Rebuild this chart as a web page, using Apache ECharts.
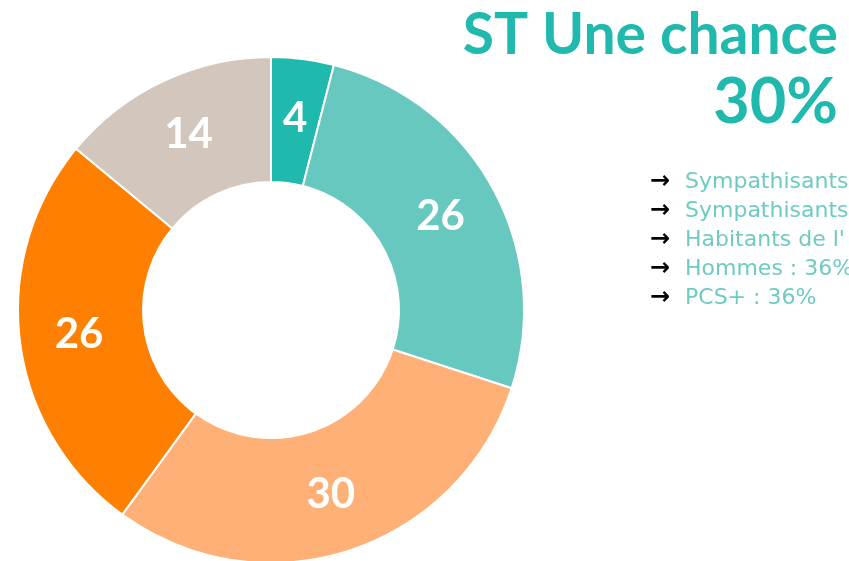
<!DOCTYPE html>
<html>
<head>
<meta charset="utf-8">
<script src="https://cdn.jsdelivr.net/npm/echarts@6/dist/echarts.min.js"></script>
<style>
  html, body { margin: 0; padding: 0; background: #ffffff; }
  #chart { width: 849px; height: 561px; }
</style>
</head>
<body>
<div id="chart"></div>
<script>
// Segment values, clockwise from the top
const values = [4, 26, 30, 26, 14];
const segmentNames = ['Segment 1', 'Segment 2', 'Segment 3', 'Segment 4', 'Segment 5'];
const segmentColors = ['#20B9AD', '#66C8BE', '#FFB077', '#FF7F00', '#D3C7BD'];

// Headline and bullet points on the right
const headline = 'ST Une chance';
const headlineValue = '30%';
const bulletLines = [
  'Sympathisants',
  'Sympathisants',
  "Habitants de l'",
  'Hommes : 36%',
  'PCS+ : 36%'
];

const chart = echarts.init(document.getElementById('chart'), null, { renderer: 'canvas' });

const textFont = 'Lato, "Open Sans", sans-serif';
const bulletFont = '"DejaVu Sans", sans-serif';
const bulletTop = 182;
const bulletStep = 29;

const graphics = [
  {
    type: 'text',
    right: 11,
    top: 7,
    style: {
      text: headline,
      font: 'bold 57px ' + textFont,
      fill: '#20B9AD'
    }
  },
  {
    type: 'text',
    right: 11,
    top: 71,
    style: {
      text: headlineValue,
      font: 'bold 63px ' + textFont,
      fill: '#20B9AD'
    }
  }
];

bulletLines.forEach(function (line, i) {
  const y = bulletTop + i * bulletStep;
  graphics.push({
    type: 'text',
    x: 650,
    y: y,
    style: {
      text: '\u2192',
      font: 'bold 24px ' + bulletFont,
      fill: '#000000',
      verticalAlign: 'middle'
    }
  });
  graphics.push({
    type: 'text',
    x: 685,
    y: y,
    style: {
      text: line,
      font: 'normal 22px ' + bulletFont,
      fill: '#6ECBC2',
      verticalAlign: 'middle'
    }
  });
});

chart.setOption({
  backgroundColor: '#ffffff',
  animation: false,
  series: [
    {
      type: 'pie',
      center: [271, 310],
      radius: [128, 253],
      startAngle: 90,
      clockwise: true,
      avoidLabelOverlap: false,
      itemStyle: {
        borderColor: '#ffffff',
        borderWidth: 2
      },
      label: {
        show: true,
        position: 'inside',
        formatter: '{c}',
        color: '#ffffff',
        fontFamily: textFont,
        fontWeight: 'bold',
        fontSize: 42
      },
      labelLine: { show: false },
      emphasis: { disabled: true },
      data: values.map(function (v, i) {
        return { name: segmentNames[i], value: v, itemStyle: { color: segmentColors[i] } };
      })
    }
  ],
  graphic: graphics
});
</script>
</body>
</html>
